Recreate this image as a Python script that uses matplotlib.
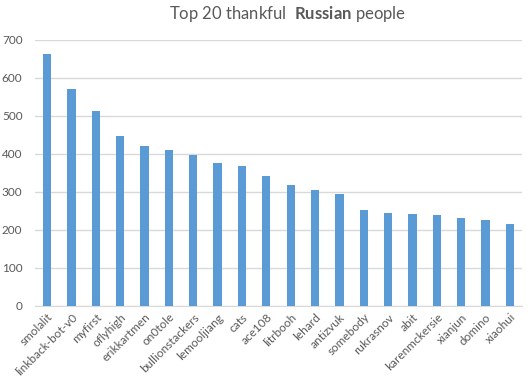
import matplotlib
matplotlib.use("Agg")
import matplotlib.pyplot as plt

names = ["smolalit", "linkback-bot-v0", "myfirst", "oflyhigh", "erikkartmen",
         "on0tole", "bullionstackers", "lemooljiang", "cats", "ace108",
         "litrbooh", "lehard", "antizvuk", "somebody", "rukrasnov",
         "abit", "karenmckersie", "xianjun", "domino", "xiaohui"]
counts = [663, 571, 513, 447, 421, 410, 397, 376, 368, 342,
          318, 305, 295, 253, 245, 242, 239, 232, 226, 216]
yticks = [0, 100, 200, 300, 400, 500, 600, 700]

plt.rcParams['font.family'] = ['Lato', 'DejaVu Sans']
plt.rcParams['mathtext.fontset'] = 'custom'
plt.rcParams['mathtext.rm'] = 'Lato'
plt.rcParams['mathtext.bf'] = 'Lato:bold'

grey = '#595959'
fig = plt.figure(figsize=(5.32, 3.84), dpi=100)
ax = fig.add_axes([35 / 532, 1 - 306 / 384, 487 / 532, 266 / 384])

x = list(range(len(names)))
ax.bar(x, counts, width=0.34, color='#5b9bd5', zorder=3)

ax.set_xlim(-0.5, len(names) - 0.5)
ax.set_ylim(0, 700)
ax.set_yticks(yticks)
ax.set_yticklabels([str(v) for v in yticks], fontsize=8.5, color=grey)
ax.set_xticks(x)
ax.set_xticklabels(names, rotation=45, ha='right', rotation_mode='anchor',
                   fontsize=8.5, color=grey)
ax.tick_params(length=0, pad=4)
ax.tick_params(axis='y', pad=9)
ax.grid(axis='y', color='#d9d9d9', linewidth=1, zorder=0)
for s in ['top', 'right', 'left']:
    ax.spines[s].set_visible(False)
ax.spines['bottom'].set_color('#d9d9d9')

fig.text(288 / 532, 1 - 14 / 384, r"Top 20 thankful  $\mathbf{Russian}$ people",
         ha='center', va='center', fontsize=12, color=grey)

fig.savefig("out.png", dpi=100)
